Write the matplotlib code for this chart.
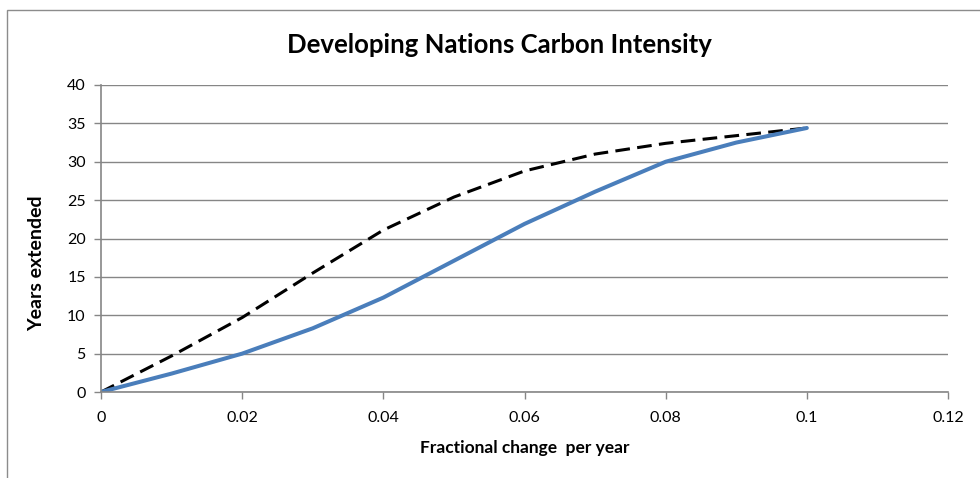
import numpy as np
import matplotlib
matplotlib.use("Agg")
import matplotlib.pyplot as plt
from matplotlib.patches import Rectangle

# values
frac_change = [0.0, 0.01, 0.02, 0.03, 0.04, 0.05, 0.06, 0.07, 0.08, 0.09, 0.10]
years_solid = [0.0, 2.4, 5.0, 8.3, 12.3, 17.1, 21.9, 26.1, 30.0, 32.5, 34.4]
years_dashed = [0.0, 4.7, 9.7, 15.5, 21.1, 25.4, 28.8, 31.0, 32.4, 33.4, 34.4]

x_ticks = [0, 0.02, 0.04, 0.06, 0.08, 0.1, 0.12]
x_labels = ["0", "0.02", "0.04", "0.06", "0.08", "0.1", "0.12"]
y_ticks = [0, 5, 10, 15, 20, 25, 30, 35, 40]

plt.rcParams['font.family'] = ['Lato', 'DejaVu Sans']
grey = '#868686'

fig = plt.figure(figsize=(9.8, 4.78), dpi=100)
ax = fig.add_axes([101/980, 1 - 392/478, (948-101)/980, (392-85)/478])

# chart border (cut off at right and bottom like the screenshot)
top = 1 - 10/478
fig.patches.append(Rectangle((7/980, -0.2), 1.2, top + 0.2,
                             transform=fig.transFigure, fill=False,
                             edgecolor='#8c8c8c', lw=1.0))

ax.plot(frac_change, years_dashed, color='black', lw=2.2, dashes=(4.8, 2.4),
        solid_capstyle='butt')
ax.plot(frac_change, years_solid, color='#4A7EBB', lw=2.9,
        solid_capstyle='round', solid_joinstyle='round')

ax.set_xlim(0, 0.12)
ax.set_ylim(0, 40)
ax.set_xticks(x_ticks)
ax.set_xticklabels(x_labels)
ax.set_yticks(y_ticks)
ax.yaxis.grid(True, color=grey, lw=1.0)
ax.set_axisbelow(True)

for s in ['top', 'right']:
    ax.spines[s].set_visible(False)
for s in ['left', 'bottom']:
    ax.spines[s].set_color(grey)
    ax.spines[s].set_linewidth(1.2)

ax.tick_params(axis='both', colors=grey, labelcolor='black', labelsize=11.5,
               direction='out', length=5, width=1)
ax.tick_params(axis='x', pad=9)
ax.tick_params(axis='y', pad=6)

ax.set_title('Developing Nations Carbon Intensity', fontsize=18.5,
             fontweight='bold', pad=23, x=0.471)
ax.set_xlabel('Fractional change  per year', fontsize=12.5, fontweight='bold')
ax.set_ylabel('Years extended', fontsize=14, fontweight='bold')
ax.xaxis.set_label_coords(0.5, -0.157)
ax.yaxis.set_label_coords(-0.066, 0.42)

fig.savefig('out.png', dpi=100)
